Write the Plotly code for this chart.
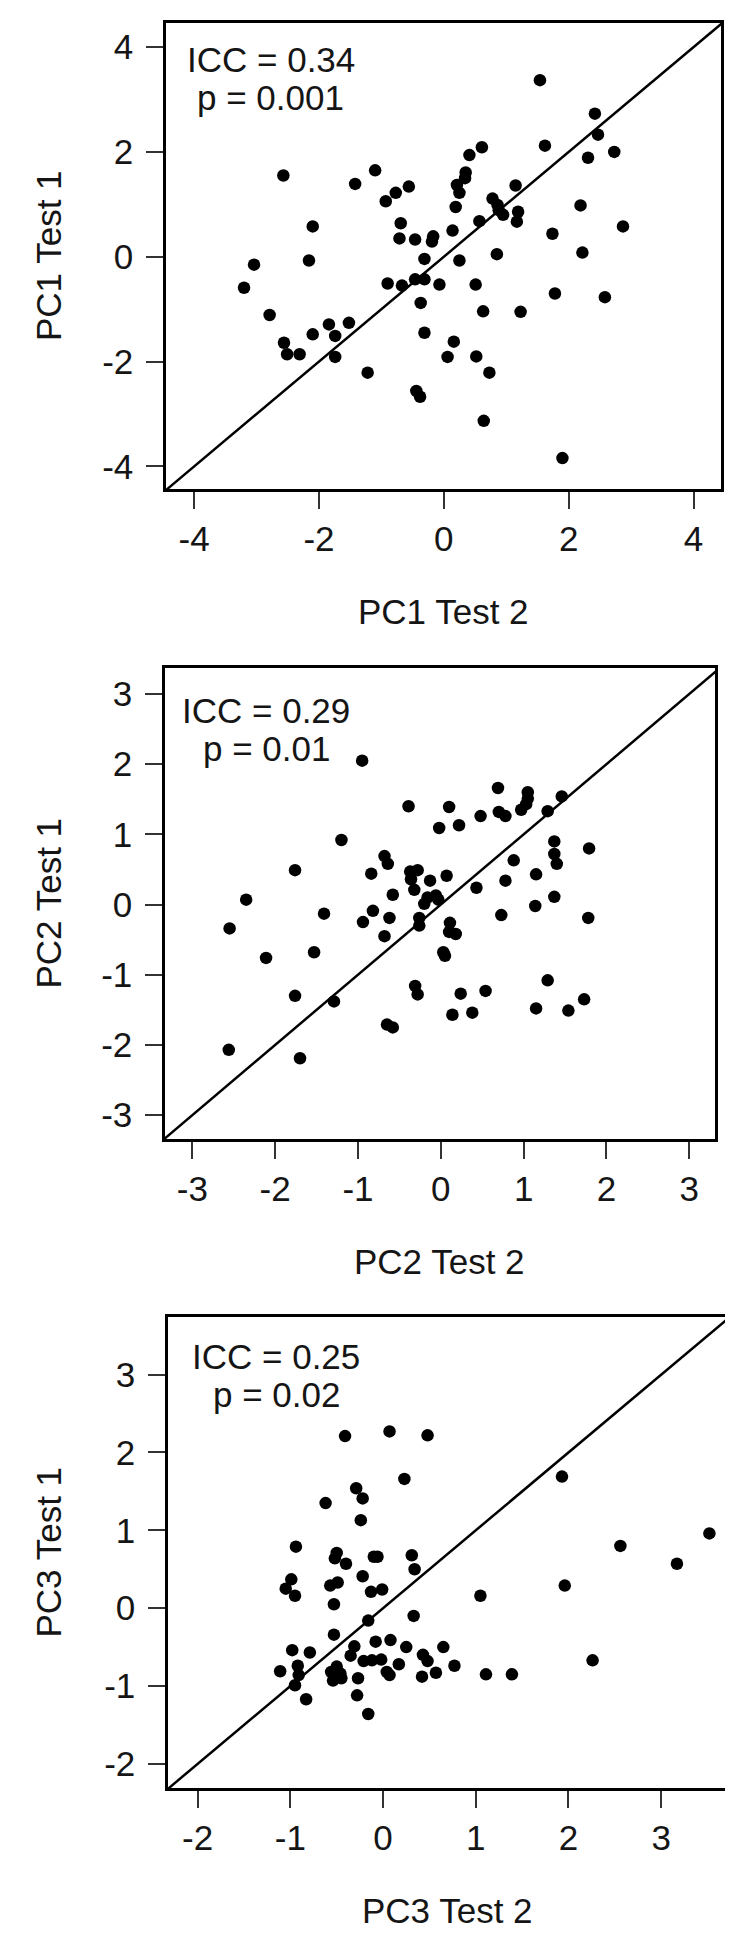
import plotly.graph_objects as go

# PC scores, test 2 (x) vs test 1 (y)
pc1_test2 = [1.54, -2.57, -1.10, -1.42, -0.93, -0.77, -0.56, -2.10, -2.16, -3.04,
             -3.20, -2.79, -2.56, -2.51, -2.31, -2.10, -1.84, -1.74, -1.74, -1.52,
             -1.22, -0.69, -0.71, -0.46, -0.67, -0.90, -0.31, -0.17, -0.19, -0.46,
             -0.31, -0.07, -0.37, -0.31, -0.44, -0.38, 0.06, 0.16, 0.14, 0.25,
             0.19, 0.21, 0.25, 0.34, 0.35, 0.41, 0.61, 0.57, 0.51, 0.63,
             0.52, 0.73, 0.64, 0.85, 0.78, 0.86, 0.95, 0.88, 1.15, 1.19,
             1.17, 1.23, 1.62, 1.74, 1.78, 1.90, 2.19, 2.22, 2.31, 2.42,
             2.47, 2.73, 2.87, 2.58]
pc1_test1 = [3.37, 1.55, 1.65, 1.39, 1.06, 1.22, 1.34, 0.58, -0.07, -0.15,
             -0.59, -1.11, -1.64, -1.86, -1.86, -1.48, -1.29, -1.51, -1.91, -1.26,
             -2.21, 0.64, 0.35, 0.33, -0.55, -0.51, -0.04, 0.39, 0.29, -0.43,
             -0.43, -0.53, -0.88, -1.45, -2.56, -2.67, -1.91, -1.62, 0.50, -0.07,
             0.95, 1.37, 1.22, 1.50, 1.61, 1.94, 2.09, 0.68, -0.53, -1.04,
             -1.90, -2.21, -3.13, 0.05, 1.11, 0.99, 0.80, 0.89, 1.36, 0.86,
             0.67, -1.05, 2.12, 0.44, -0.70, -3.84, 0.98, 0.08, 1.89, 2.73,
             2.33, 2.00, 0.58, -0.77]

pc2_test2 = [-0.95, -2.55, -2.35, -2.11, -1.76, -1.41, -1.53, -1.76, -2.56, -1.70,
             -1.29, -1.20, -0.84, -0.82, -0.94, -0.68, -0.62, -0.58, -0.68, -0.64,
             -0.39, -0.37, -0.28, -0.36, -0.32, -0.13, -0.20, -0.16, -0.06, -0.03,
             -0.26, -0.26, -0.31, -0.28, -0.65, -0.58, -0.02, 0.10, 0.22, 0.07,
             0.03, 0.05, 0.11, 0.10, 0.18, 0.14, 0.24, 0.38, 0.43, 0.48,
             0.54, 0.69, 0.70, 0.78, 0.78, 0.73, 0.88, 0.97, 1.03, 1.05,
             1.05, 1.15, 1.14, 1.15, 1.29, 1.29, 1.46, 1.37, 1.37, 1.40,
             1.37, 1.54, 1.73, 1.79, 1.78]
pc2_test1 = [2.05, -0.34, 0.07, -0.76, 0.49, -0.13, -0.68, -1.30, -2.07, -2.19,
             -1.38, 0.92, 0.44, -0.09, -0.25, -0.45, -0.19, 0.14, 0.69, 0.58,
             1.40, 0.47, 0.49, 0.36, 0.21, 0.34, 0.01, 0.10, 0.13, 0.07,
             -0.19, -0.30, -1.16, -1.28, -1.71, -1.75, 1.09, 1.39, 1.13, 0.41,
             -0.68, -0.73, -0.26, -0.39, -0.42, -1.57, -1.27, -1.54, 0.24, 1.26,
             -1.23, 1.66, 1.32, 1.26, 0.34, -0.15, 0.63, 1.35, 1.43, 1.60,
             1.51, 0.43, -0.02, -1.48, -1.08, 1.33, 1.54, 0.90, 0.72, 0.58,
             0.11, -1.51, -1.35, 0.80, -0.19]

pc3_test2 = [-0.41, 0.07, 0.48, 0.23, -0.62, -0.29, -0.22, -0.24, -0.94, -0.50,
             -0.52, -0.40, -0.10, -0.06, 0.31, 0.34, -0.22, -0.99, -1.05, -0.95,
             -0.57, -0.49, -0.13, -0.01, -0.53, -0.16, 0.33, -0.53, -0.98, -0.79,
             -0.31, -0.35, -0.08, 0.08, 0.25, 0.65, -0.21, -0.12, -0.02, 0.17,
             0.04, 0.07, 0.43, 0.48, 0.77, 0.42, 0.57, -1.11, -0.92, -0.91,
             -0.95, -0.83, -0.56, -0.50, -0.46, -0.54, -0.45, -0.52, -0.27, -0.28,
             -0.16, 1.05, 1.11, 1.39, 1.93, 1.96, 2.26, 2.56, 3.17, 3.52]
pc3_test1 = [2.21, 2.27, 2.22, 1.66, 1.35, 1.54, 1.41, 1.13, 0.79, 0.71,
             0.64, 0.57, 0.66, 0.66, 0.68, 0.50, 0.41, 0.37, 0.25, 0.16,
             0.29, 0.33, 0.21, 0.24, 0.05, -0.16, -0.10, -0.34, -0.54, -0.57,
             -0.49, -0.61, -0.43, -0.41, -0.50, -0.50, -0.68, -0.67, -0.66, -0.72,
             -0.82, -0.86, -0.60, -0.68, -0.74, -0.88, -0.83, -0.81, -0.74, -0.86,
             -0.99, -1.17, -0.82, -0.75, -0.84, -0.93, -0.90, -0.88, -0.90, -1.12,
             -1.36, 0.16, -0.85, -0.85, 1.69, 0.29, -0.67, 0.80, 0.57, 0.96]

icc_text = ['ICC = 0.34', 'ICC = 0.29', 'ICC = 0.25']
p_text = ['p = 0.001', 'p = 0.01', 'p = 0.02']
x_titles = ['PC1 Test 2', 'PC2 Test 2', 'PC3 Test 2']
y_titles = ['PC1 Test 1', 'PC2 Test 1', 'PC3 Test 1']
ticks1 = [-4, -2, 0, 2, 4]
ticks2 = [-3, -2, -1, 0, 1, 2, 3]
ticks3x = [-2, -1, 0, 1, 2, 3]
ticks3y = [-2, -1, 0, 1, 2, 3]

W, H = 733, 1933
FONT = 'Liberation Sans, Arial, sans-serif'
FS = 35
TXT = '#151515'

panels = [
    dict(x=pc1_test2, y=pc1_test1, xt=ticks1, yt=ticks1,
         xr=[-4.45, 4.44], yr=[-4.43, 4.46], box=(158, 713, 15, 481),
         ann_x=-2.77, ann_y=3.40),
    dict(x=pc2_test2, y=pc2_test1, xt=ticks2, yt=ticks2,
         xr=[-3.33, 3.31], yr=[-3.34, 3.37], box=(157, 707, 660, 1131),
         ann_x=-2.11, ann_y=2.49),
    dict(x=pc3_test2, y=pc3_test1, xt=ticks3x, yt=ticks3y,
         xr=[-2.32, 3.71], yr=[-2.31, 3.74], box=(160, 719, 1309, 1780),
         ann_x=-1.15, ann_y=2.99),
]

fig = go.Figure()
annotations = []
axis_common = dict(showline=True, linecolor='black', linewidth=2.5, mirror=True,
                   ticks='outside', ticklen=17, tickwidth=2, tickcolor='#333333',
                   showgrid=False, zeroline=False,
                   tickfont=dict(family=FONT, size=FS, color=TXT))

for i, p in enumerate(panels):
    n = '' if i == 0 else str(i + 1)
    xa, ya = 'x' + n, 'y' + n
    left, right, top, bottom = p['box']
    lo = min(p['xr'][0], p['yr'][0])
    hi = max(p['xr'][1], p['yr'][1])
    # identity line y = x
    fig.add_trace(go.Scatter(x=[lo, hi], y=[lo, hi], mode='lines',
                             line=dict(color='black', width=2.5),
                             xaxis=xa, yaxis=ya, showlegend=False,
                             hoverinfo='skip'))
    fig.add_trace(go.Scatter(x=p['x'], y=p['y'], mode='markers',
                             marker=dict(color='black', size=12.5),
                             xaxis=xa, yaxis=ya, showlegend=False))
    fig.layout['xaxis' + n] = dict(
        axis_common, domain=[left / W, right / W], range=p['xr'],
        anchor=ya, tickvals=p['xt'], ticktext=[str(v) for v in p['xt']])
    fig.layout['yaxis' + n] = dict(
        axis_common, domain=[1 - bottom / H, 1 - top / H], range=p['yr'],
        anchor=xa, tickvals=p['yt'], ticktext=[str(v) for v in p['yt']],
        ticklabelstandoff=6)
    annotations.append(dict(text=icc_text[i], x=p['ann_x'], y=p['ann_y'],
                            xref=xa, yref=ya, showarrow=False, yshift=19,
                            xanchor='center', yanchor='middle',
                            font=dict(family=FONT, size=FS, color=TXT)))
    annotations.append(dict(text=p_text[i], x=p['ann_x'], y=p['ann_y'],
                            xref=xa, yref=ya, showarrow=False, yshift=-19,
                            xanchor='center', yanchor='middle',
                            font=dict(family=FONT, size=FS, color=TXT)))
    annotations.append(dict(text=x_titles[i], x=(left + right) / 2 / W,
                            y=1 - (bottom + 122) / H, xref='paper', yref='paper',
                            showarrow=False, xanchor='center', yanchor='middle',
                            font=dict(family=FONT, size=FS, color=TXT)))
    annotations.append(dict(text=y_titles[i], x=40 / W,
                            y=1 - (top + bottom) / 2 / H, xref='paper',
                            yref='paper', showarrow=False, textangle=-90,
                            xanchor='center', yanchor='middle',
                            font=dict(family=FONT, size=FS, color=TXT)))

fig.update_layout(width=W, height=H, margin=dict(l=0, r=0, t=0, b=0),
                  plot_bgcolor='white', paper_bgcolor='white',
                  annotations=annotations, showlegend=False)
fig.write_html('out.html')
